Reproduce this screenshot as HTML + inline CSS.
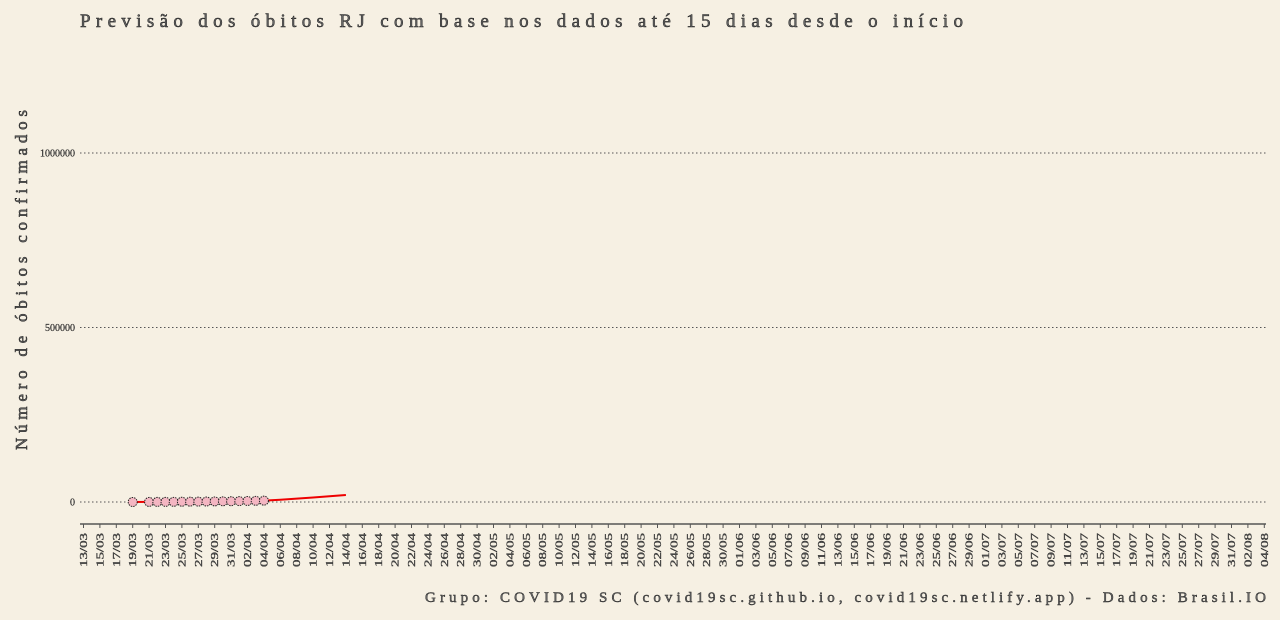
<!DOCTYPE html>
<html><head><meta charset="utf-8"><style>
html,body{margin:0;padding:0;background:#f6f0e3;}
svg{display:block;font-family:"Liberation Serif",serif;}
</style></head><body>
<svg id="chart" width="1280" height="620" viewBox="0 0 1280 620" xmlns="http://www.w3.org/2000/svg">
<rect width="1280" height="620" fill="#f6f0e3"/>
<text x="80" y="27" font-size="19" fill="#666" stroke="#222" stroke-width="0.5" textLength="883" lengthAdjust="spacing">Previsão dos óbitos RJ com base nos dados até 15 dias desde o início</text>
<text transform="translate(27,450) rotate(-90)" font-size="17" fill="#666" stroke="#222" stroke-width="0.5" textLength="340" lengthAdjust="spacing">Número de óbitos confirmados</text>
<text x="425" y="602" font-size="15" fill="#666" stroke="#222" stroke-width="0.4" textLength="841" lengthAdjust="spacing">Grupo: COVID19 SC (covid19sc.github.io, covid19sc.netlify.app)  -  Dados: Brasil.IO</text>
<g id="grid"></g><g id="axes"></g><g id="marks"></g>
</svg>
<script>
const yTicks = [0, 500000, 1000000];
const yTickLabels = ["0", "500000", "1000000"];
const obsDays = [6, 8, 9, 10, 11, 12, 13, 14, 15, 16, 17, 18, 19, 20, 21, 22];
const obsValues = [2, 200, 300, 400, 500, 700, 900, 1100, 1300, 1600, 1900, 2200, 2600, 3000, 3400, 3800];
const fcDays = [22, 24, 26, 28, 30, 32];
const fcValues = [3800, 6500, 9500, 13000, 16500, 20000];
const nTicks = 73;
const startDate = new Date(2020, 2, 13);
const x0 = 83.5, dayW = 8.2;
const X = d => x0 + d * dayW;
const Y = v => 502 - v * 0.000349;
const NS = "http://www.w3.org/2000/svg";
function mk(tag, attrs, parent){const e=document.createElementNS(NS,tag);for(const k in attrs)e.setAttribute(k,attrs[k]);parent.appendChild(e);return e;}
const grid=document.getElementById('grid'), axes=document.getElementById('axes'), marks=document.getElementById('marks');
yTicks.forEach((t,i)=>{
  const l=mk('line',{x1:80,x2:1266,y1:Y(t),y2:Y(t),stroke:'#555','stroke-width':1,'stroke-dasharray':'1.5,2.5'},grid);
  
  
  const tx=mk('text',{x:75,y:Y(t)+3.5,'text-anchor':'end','font-size':10,fill:'#333',stroke:'#222','stroke-width':0.2},axes);
  
  
  tx.textContent=yTickLabels[i];
});
const ax=mk('line',{x1:80,x2:1266,y1:524,y2:524,stroke:'#555','stroke-width':1.5},axes);


for(let i=0;i<nTicks;i++){
  const x=X(i*2);
  const tk=mk('line',{x1:x,x2:x,y1:524,y2:528,stroke:'#555'},axes);
  
  
  const d=new Date(startDate.getTime()+i*2*86400000);
  const lab=String(d.getDate()).padStart(2,'0')+'/'+String(d.getMonth()+1).padStart(2,'0');
  const t=mk('text',{transform:`translate(${x+3.5},567) rotate(-90)`,'font-size':10.5,fill:'#555',stroke:'#222','stroke-width':0.3,textLength:34,lengthAdjust:'spacingAndGlyphs'},axes);
  
  
  t.textContent=lab;
}
const fc=mk('polyline',{points:fcDays.map((d,i)=>X(d)+','+Y(fcValues[i])).join(' '),fill:'none',stroke:'#e00',"stroke-width":2},marks);


const ol=mk('polyline',{points:obsDays.map((d,i)=>X(d)+','+Y(obsValues[i])).join(' '),fill:'none',stroke:'#e00',"stroke-width":2},marks);


obsDays.forEach((d,i)=>{
  const c=mk('circle',{cx:X(d),cy:Y(obsValues[i]),r:4.5,fill:'#f4b6c2',stroke:'#222','stroke-width':1,'stroke-dasharray':'1.5,1'},marks);
  
  
});
</script>
</body></html>
